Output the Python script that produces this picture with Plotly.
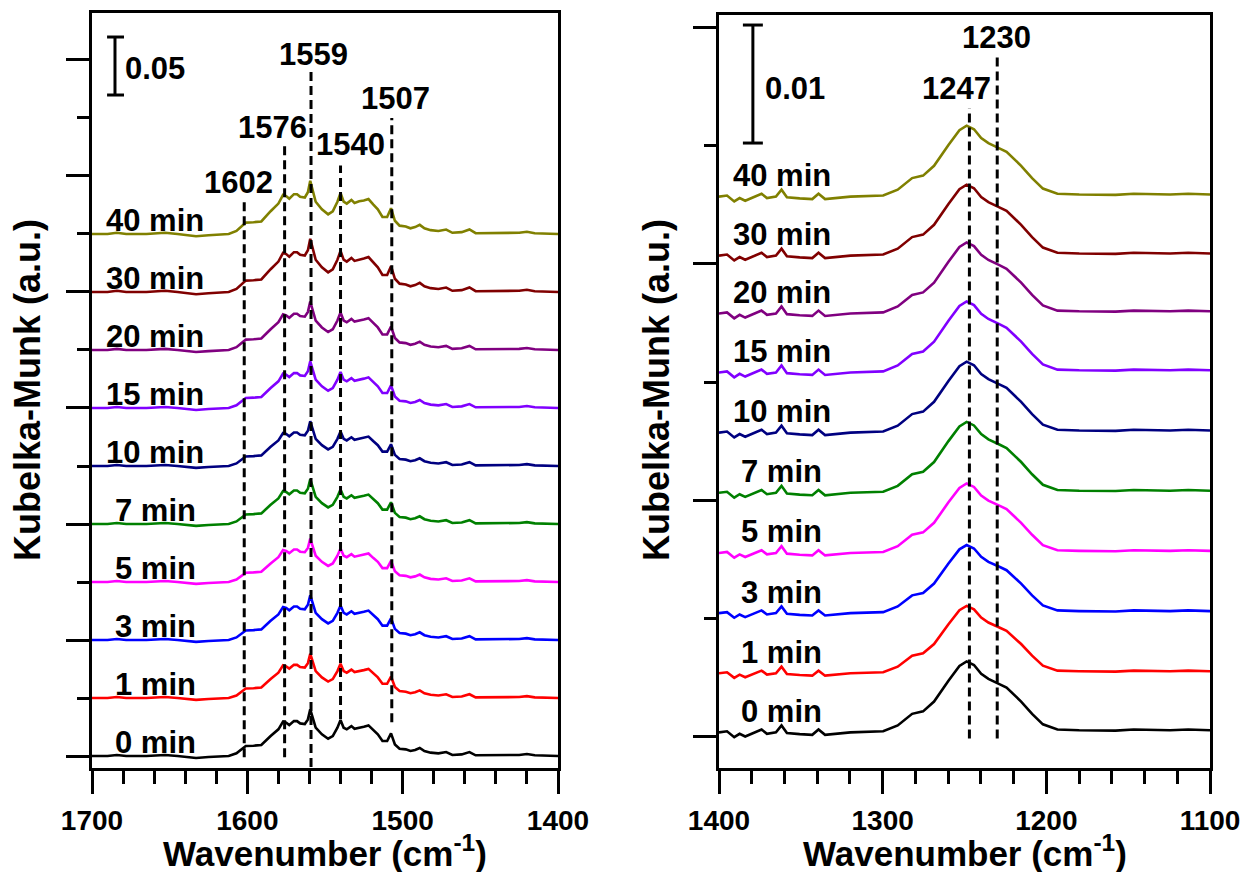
import plotly.graph_objects as go

# ---------------- data ----------------
times = ["0 min", "1 min", "3 min", "5 min", "7 min", "10 min", "15 min", "20 min", "30 min", "40 min"]
colors = ["#000000", "#FF0000", "#0000FF", "#FF00FF", "#008000", "#000080",
          "#8000FF", "#800080", "#800000", "#808000"]

# left panel (1700-1400 cm-1) spectral profile, Kubelka-Munk x 1e-3
wn_left = [1700, 1690, 1684, 1678, 1665, 1653, 1645, 1633, 1625, 1612, 1607, 1603, 1601,
           1596, 1591, 1585, 1580, 1577, 1575, 1573, 1570, 1568, 1566, 1563, 1561, 1559.5,
           1558, 1556, 1552, 1548, 1545, 1542, 1540, 1538, 1536, 1533, 1531, 1528, 1525,
           1522, 1519, 1516, 1513, 1510, 1507.5, 1505, 1502, 1498, 1495, 1492, 1489, 1486,
           1482, 1477, 1472, 1468, 1462, 1457, 1453, 1445, 1435, 1425, 1420, 1415, 1400]
km_left = [0.0, 0.0, 0.9, 0.0, 0.0, 0.9, 0.0, -1.7, -0.9, 0.0, 2.3, 6.3, 8.6,
           8.9, 9.5, 17.2, 23.0, 29.6, 28.7, 26.7, 30.1, 30.1, 28.1, 27.6, 31.6, 40.2,
           33.0, 24.4, 18.7, 14.9, 17.2, 24.4, 31.0, 24.4, 23.0, 25.8, 23.5, 24.7, 25.3,
           26.4, 22.4, 18.7, 12.9, 12.9, 19.5, 10.0, 6.3, 5.7, 4.3, 5.2, 6.9, 4.3,
           2.9, 2.3, 3.4, 0.9, 1.4, 3.4, 0.6, 0.6, 0.6, 0.9, 1.7, 0.6, 0.0]
offset_left = [0.00, 0.05, 0.10, 0.15, 0.20, 0.25, 0.30, 0.35, 0.40, 0.45]
scale_left = [1.00, 0.95, 0.96, 0.93, 0.96, 0.96, 1.00, 1.04, 1.14, 1.14]
peaks_left = [1602, 1576, 1559, 1540, 1507]

# right panel (1400-1100 cm-1) spectral profile, Kubelka-Munk x 1e-3
wn_right = [1400, 1395.1, 1390.7, 1387.4, 1384.0, 1374.0, 1370.7, 1365.2, 1361.8, 1358.5,
            1350.7, 1343.0, 1339.2, 1335.2, 1319.7, 1299.7, 1290.8, 1282.0, 1275.3, 1268.6,
            1259.8, 1253.1, 1248.7, 1244.2, 1239.8, 1235.4, 1228.7, 1224.3, 1215.4, 1208.7,
            1202.1, 1193.2, 1179.9, 1157.7, 1146.6, 1135.5, 1124.4, 1113.3, 1100]
km_right = [-0.09, 0.0, -0.50, -0.21, -0.44, 0.15, -0.21, -0.09, 0.50, -0.15,
            -0.24, -0.30, 0.15, -0.30, -0.09, 0.0, 0.50, 1.48, 1.69, 2.52,
            4.29, 5.54, 5.92, 5.62, 4.88, 4.44, 4.00, 3.70, 2.52, 1.48,
            0.59, 0.15, 0.09, 0.06, 0.15, 0.12, 0.09, 0.15, 0.09]
offset_right = [0.0004, 0.0054, 0.0105, 0.0156, 0.0207, 0.0258, 0.0309, 0.0359, 0.0408, 0.0458]
scale_right = [1.00, 0.95, 0.96, 0.98, 1.00, 1.00, 1.00, 1.00, 1.00, 1.00]
peaks_right = [1247, 1230]

# ---------------- figure ----------------
FONT = "Liberation Sans, Arial, sans-serif"
fig = go.Figure()

for i, t in enumerate(times):
    fig.add_trace(go.Scatter(
        x=wn_left, y=[offset_left[i] + scale_left[i] * v / 1000 for v in km_left],
        mode="lines", line=dict(color=colors[i], width=2.6), name=t, showlegend=False,
        xaxis="x", yaxis="y"))
    fig.add_trace(go.Scatter(
        x=wn_right, y=[offset_right[i] + scale_right[i] * v / 1000 for v in km_right],
        mode="lines", line=dict(color=colors[i], width=2.6), name=t, showlegend=False,
        xaxis="x2", yaxis="y2"))

annotations = []
shapes = []

def lbl(text, x, y, xref, yref, size=31, xanchor="center"):
    annotations.append(dict(text=text, x=x, y=y, xref=xref, yref=yref, showarrow=False,
                            xanchor=xanchor, yanchor="middle",
                            font=dict(family=FONT, size=size, color="black", weight="bold")))

# series labels
for i, t in enumerate(times):
    lbl(t, 1659.4, offset_left[i] + 0.012, "x", "y")
    lbl(t, 1361.6, offset_right[i] + 0.0017, "x2", "y2")

# dashed peak markers, left
dash_top_left = [0.479, 0.527, 0.590, 0.509, 0.550]
dash_bot_left = [-0.001, -0.001, -0.0095, 0.032, 0.029]
lab_pos_left = [(1606, 0.494), (1583.5, 0.542), (1557.7, 0.605), (1533.9, 0.527), (1504.9, 0.567)]
for p, t0, b0, (lx, ly) in zip(peaks_left, dash_top_left, dash_bot_left, lab_pos_left):
    shapes.append(dict(type="line", xref="x", yref="y", x0=p, x1=p, y0=b0, y1=t0,
                       line=dict(color="black", width=3, dash="9px,5px")))
    lbl(str(p), lx, ly, "x", "y")

dash_top_right = [0.0532, 0.0577]
lab_pos_right = [(1254.9, 0.0549), (1230.5, 0.0592)]
for p, t0, (lx, ly) in zip(peaks_right, dash_top_right, lab_pos_right):
    shapes.append(dict(type="line", xref="x2", yref="y2", x0=p, x1=p, y0=-0.0002, y1=t0,
                       line=dict(color="black", width=3, dash="9px,5px")))
    lbl(str(p), lx, ly, "x2", "y2")

# scale bars
def scalebar(xc, xl, xr, y0, y1, xref, yref):
    lw = 3
    shapes.append(dict(type="line", xref=xref, yref=yref, x0=xc, x1=xc, y0=y0, y1=y1,
                       line=dict(color="black", width=lw)))
    for yy in (y0, y1):
        shapes.append(dict(type="line", xref=xref, yref=yref, x0=xl, x1=xr, y0=yy, y1=yy,
                           line=dict(color="black", width=lw)))

scalebar(1685.2, 1690.3, 1679.4, 0.5698, 0.6198, "x", "y")
lbl("0.05", 1659.4, 0.593, "x", "y")
scalebar(1379.3, 1385.4, 1373.2, 0.05025, 0.06025, "x2", "y2")
lbl("0.01", 1353.7, 0.0549, "x2", "y2")

# axis titles
for xc in (325 / 1247, (719 + 1210) / 2 / 1247):
    annotations.append(dict(text="Wavenumber (cm<sup>-1</sup>)", x=xc, y=(872 - 851) / 872,
                            xref="paper", yref="paper", showarrow=False, xanchor="center",
                            yanchor="middle",
                            font=dict(family=FONT, size=35, color="black", weight="bold")))
for xc in (27 / 1247, 656 / 1247):
    annotations.append(dict(text="Kubelka-Munk (a.u.)", x=xc, y=(872 - 390) / 872,
                            xref="paper", yref="paper", showarrow=False, xanchor="center",
                            yanchor="middle", textangle=-90,
                            font=dict(family=FONT, size=36, color="black", weight="bold")))

tickfont = dict(family=FONT, size=28, color="black", weight="bold")
xcommon = dict(showline=True, linewidth=3, linecolor="black", mirror=True, automargin=False,
               ticks="outside", ticklen=23, tickwidth=3, tickcolor="black",
               showgrid=False, zeroline=False, tickfont=tickfont, dtick=100,
               ticklabelstandoff=2,
               minor=dict(dtick=20, ticklen=13, tickwidth=3, tickcolor="black", ticks="outside"))
ycommon = dict(showline=True, linewidth=3, linecolor="black", mirror=True, automargin=False,
               ticks="outside", ticklen=23, tickwidth=3, tickcolor="black",
               showgrid=False, zeroline=False, showticklabels=False)

fig.update_layout(
    width=1247, height=872,
    margin=dict(l=0, r=0, t=0, b=0, autoexpand=False),
    paper_bgcolor="white", plot_bgcolor="white",
    xaxis=dict(**xcommon, range=[1700, 1400], domain=[92 / 1247, 558 / 1247], anchor="y",
               tickvals=[1700, 1600, 1500, 1400]),
    yaxis=dict(**ycommon, range=[-0.01034, 0.6405], domain=[(872 - 768) / 872, (872 - 13) / 872],
               anchor="x", tick0=0, dtick=0.1,
               minor=dict(dtick=0.05, tick0=0, ticklen=12, tickwidth=3, tickcolor="black", ticks="outside")),
    xaxis2=dict(**xcommon, range=[1400, 1100], domain=[719 / 1247, 1210 / 1247], anchor="y2",
                tickvals=[1400, 1300, 1200, 1100]),
    yaxis2=dict(**ycommon, range=[-0.00271, 0.0611], domain=[(872 - 768) / 872, (872 - 15) / 872],
                anchor="x2", tick0=0, dtick=0.02,
                minor=dict(dtick=0.01, tick0=0, ticklen=12, tickwidth=3, tickcolor="black", ticks="outside")),
    annotations=annotations,
    shapes=shapes,
)

fig.write_html("out.html")
